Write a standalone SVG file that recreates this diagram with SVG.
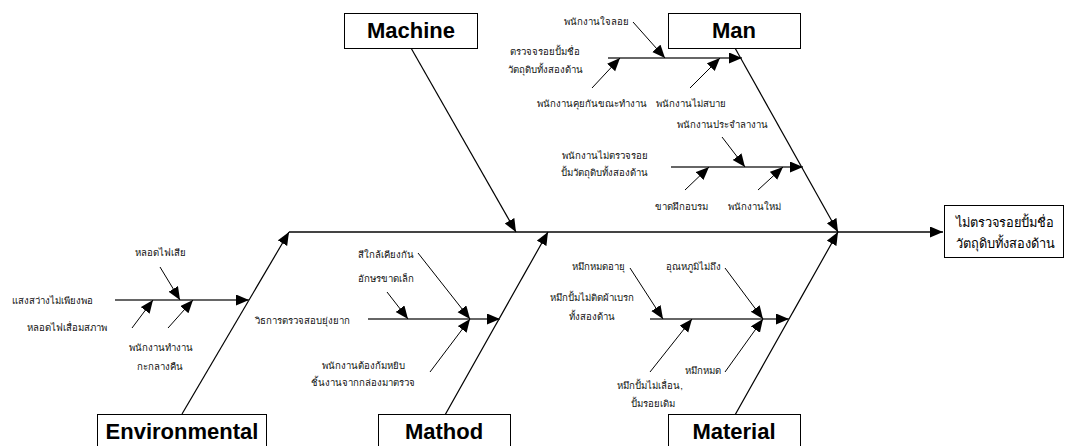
<svg xmlns="http://www.w3.org/2000/svg" width="1065" height="446" viewBox="0 0 1065 446">
<defs>
<marker id="ah" markerUnits="userSpaceOnUse" markerWidth="14" markerHeight="12" refX="13" refY="5.5" orient="auto">
<path d="M0,0 L13,5.5 L0,11 z" fill="#000"/>
</marker>
<style>
.bg{fill:#fff}
.box{fill:#fff;stroke:#000;stroke-width:1}
.cat{font-family:"Liberation Sans",Arial,sans-serif;font-weight:bold;font-size:22px;fill:#000;text-anchor:middle}
.lbl{font-family:"Liberation Sans","Noto Sans",sans-serif;font-size:9.6px;fill:#111;text-anchor:middle}
.res{font-family:"Liberation Sans","Noto Sans",sans-serif;font-size:12.8px;fill:#000;text-anchor:middle}
.diag{stroke:#000;stroke-width:1.2;fill:none}
.br{stroke:#333;stroke-width:1.6;fill:none}
.sp{stroke:#444;stroke-width:2;fill:none}
.ar{stroke:#000;stroke-width:1;fill:none}
</style>
</defs>
<rect class="bg" x="0" y="0" width="1065" height="446"/>

<g id="connectors">
<line class="sp" x1="289" y1="232" x2="943" y2="232" marker-end="url(#ah)"/>
<line class="diag" x1="411" y1="48" x2="516" y2="232" marker-end="url(#ah)"/>
<line class="diag" x1="735" y1="48" x2="838" y2="232" marker-end="url(#ah)"/>
<line class="diag" x1="182" y1="414" x2="289" y2="232" marker-end="url(#ah)"/>
<line class="diag" x1="445" y1="415" x2="548" y2="232" marker-end="url(#ah)"/>
<line class="diag" x1="735" y1="415" x2="838" y2="232" marker-end="url(#ah)"/>
<line class="br" x1="608" y1="58" x2="742" y2="58" marker-end="url(#ah)"/>
<line class="ar" x1="633" y1="22" x2="665" y2="58" marker-end="url(#ah)"/>
<line class="ar" x1="592" y1="88" x2="620" y2="58" marker-end="url(#ah)"/>
<line class="ar" x1="690" y1="88" x2="720" y2="58" marker-end="url(#ah)"/>
<line class="br" x1="671" y1="167" x2="803" y2="167" marker-end="url(#ah)"/>
<line class="ar" x1="722" y1="137" x2="745" y2="167" marker-end="url(#ah)"/>
<line class="ar" x1="685" y1="190" x2="709" y2="167" marker-end="url(#ah)"/>
<line class="ar" x1="758" y1="190" x2="783" y2="167" marker-end="url(#ah)"/>
<line class="br" x1="115" y1="300" x2="249" y2="300" marker-end="url(#ah)"/>
<line class="ar" x1="160" y1="267" x2="180" y2="300" marker-end="url(#ah)"/>
<line class="ar" x1="132" y1="328" x2="153" y2="300" marker-end="url(#ah)"/>
<line class="ar" x1="168" y1="328" x2="193" y2="300" marker-end="url(#ah)"/>
<line class="br" x1="368" y1="319" x2="500" y2="319" marker-end="url(#ah)"/>
<line class="ar" x1="418" y1="253" x2="470" y2="319" marker-end="url(#ah)"/>
<line class="ar" x1="387" y1="292" x2="408" y2="319" marker-end="url(#ah)"/>
<line class="ar" x1="430" y1="372" x2="470" y2="319" marker-end="url(#ah)"/>
<line class="br" x1="650" y1="319" x2="789" y2="319" marker-end="url(#ah)"/>
<line class="ar" x1="630" y1="268" x2="663" y2="319" marker-end="url(#ah)"/>
<line class="ar" x1="725" y1="268" x2="763" y2="319" marker-end="url(#ah)"/>
<line class="ar" x1="650" y1="372" x2="692" y2="319" marker-end="url(#ah)"/>
<line class="ar" x1="725" y1="372" x2="763" y2="319" marker-end="url(#ah)"/>
</g>

<g id="machine">
<rect class="box" x="344.5" y="13.5" width="133" height="35"/>
<text class="cat" x="411" y="38">Machine</text>
</g>
<g id="man">
<rect class="box" x="668.5" y="13.5" width="132" height="35"/>
<text class="cat" x="734" y="38">Man</text>
</g>
<g id="environmental">
<rect class="box" x="97.5" y="414.5" width="169" height="40"/>
<text class="cat" x="182" y="439">Environmental</text>
</g>
<g id="mathod">
<rect class="box" x="378.5" y="414.5" width="132" height="40"/>
<text class="cat" x="444" y="439">Mathod</text>
</g>
<g id="material">
<rect class="box" x="668.5" y="414.5" width="132" height="40"/>
<text class="cat" x="734" y="439">Material</text>
</g>
<g id="result">
<rect class="box" x="944.5" y="205.5" width="119" height="52"/>
<text class="res" x="1005" y="227">ไม่ตรวจรอยปั้มชื่อ</text>
<text class="res" x="1005" y="248">วัตถุดิบทั้งสองด้าน</text>
</g>

<g id="man-causes">
<text class="lbl" x="596" y="25">พนักงานใจลอย</text>
<text class="lbl" x="545" y="55">ตรวจจรอยปั้มชื่อ</text>
<text class="lbl" x="545" y="73">วัตถุดิบทั้งสองด้าน</text>
<text class="lbl" x="592" y="107">พนักงานคุยกันขณะทำงาน</text>
<text class="lbl" x="691" y="107">พนักงานไม่สบาย</text>
<text class="lbl" x="722" y="128">พนักงานประจำลางาน</text>
<text class="lbl" x="605" y="159">พนักงานไม่ตรวจรอย</text>
<text class="lbl" x="604" y="176">ปั้มวัตถุดิบทั้งสองด้าน</text>
<text class="lbl" x="681" y="210">ขาดฝึกอบรม</text>
<text class="lbl" x="754" y="210">พนักงานใหม่</text>
</g>
<g id="environmental-causes">
<text class="lbl" x="160" y="256">หลอดไฟเสีย</text>
<text class="lbl" x="52" y="304">แสงสว่างไม่เพียงพอ</text>
<text class="lbl" x="67" y="331">หลอดไฟเสื่อมสภาพ</text>
<text class="lbl" x="161" y="351">พนักงานทำงาน</text>
<text class="lbl" x="160" y="370">กะกลางคืน</text>
</g>
<g id="mathod-causes">
<text class="lbl" x="386" y="258">สีใกล้เคียงกัน</text>
<text class="lbl" x="386" y="282">อักษรขาดเล็ก</text>
<text class="lbl" x="302" y="324">วิธการตรวจสอบยุ่งยาก</text>
<text class="lbl" x="363" y="369">พนักงานต้องก้มหยิบ</text>
<text class="lbl" x="363" y="386">ชิ้นงานจากกล่องมาตรวจ</text>
</g>
<g id="material-causes">
<text class="lbl" x="598" y="270">หมึกหมดอายุ</text>
<text class="lbl" x="693" y="270">อุณหภูมิไม่ถึง</text>
<text class="lbl" x="592" y="301">หมึกปั้มไม่ติดผ้าเบรก</text>
<text class="lbl" x="592" y="320">ทั้งสองด้าน</text>
<text class="lbl" x="650" y="389">หมึกปั้มไม่เลื่อน,</text>
<text class="lbl" x="653" y="407">ปั้มรอยเดิม</text>
<text class="lbl" x="703" y="374">หมึกหมด</text>
</g>
</svg>
